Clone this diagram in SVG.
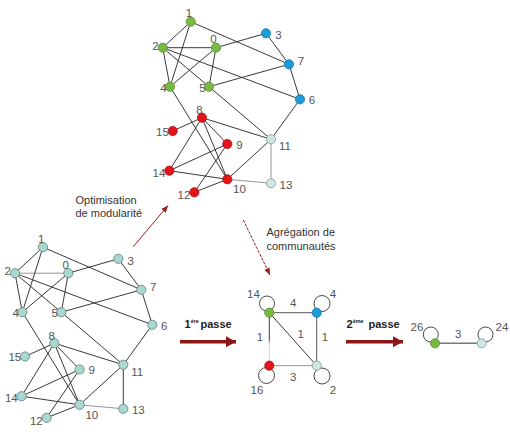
<svg xmlns="http://www.w3.org/2000/svg" width="510" height="434" viewBox="0 0 510 434">
<defs>
<style>
.e{stroke:#222;stroke-width:0.9;fill:none}
.el{stroke:#888;stroke-width:0.9;fill:none}
.lp{stroke:#333;stroke-width:0.9;fill:none}
.g{fill:#78b943;stroke:#5c8f30;stroke-width:0.8}
.b{fill:#1d9ad8;stroke:#167ab0;stroke-width:0.8}
.r{fill:#e4141b;stroke:#b01015;stroke-width:0.8}
.c{fill:#cfe6e2;stroke:#7f9d99;stroke-width:0.8}
.t{fill:#a9d8d0;stroke:#5f7f7a;stroke-width:0.8}
.lb{font-family:"Liberation Sans",Arial,sans-serif;font-size:11.5px;fill:#555;text-anchor:middle}
.tx{font-family:"Liberation Sans",Arial,sans-serif;font-size:11px;fill:#333}
.bd{font-family:"Liberation Sans",Arial,sans-serif;font-size:11px;font-weight:bold;fill:#222}
.big{stroke:#8a1616;stroke-width:3.5;fill:none}
.thin{stroke:#a31c1c;stroke-width:1;fill:none}
</style>
<marker id="ah" markerUnits="userSpaceOnUse" markerWidth="12" markerHeight="12" refX="10" refY="6" orient="auto">
<path d="M0,0.5 L10,6 L0,11.5 Z" fill="#8a1616"/>
</marker>
<marker id="as" markerUnits="userSpaceOnUse" markerWidth="8" markerHeight="8" refX="7" refY="4" orient="auto">
<path d="M0,1 L7,4 L0,7 Z" fill="#a31c1c"/>
</marker>
<linearGradient id="gr" gradientUnits="userSpaceOnUse" x1="0" y1="312" x2="0" y2="366">
<stop offset="0.5" stop-color="#222"/>
<stop offset="0.6" stop-color="#ccc"/>
</linearGradient>
</defs>
<rect width="510" height="434" fill="#fff"/>

<!-- top graph -->
<g id="top-graph">
<g id="top-edges">
<line class="e" x1="216" y1="47.7" x2="162.7" y2="47.7"/>
<line class="e" x1="216" y1="47.7" x2="266" y2="33.3"/>
<line class="e" x1="216" y1="47.7" x2="170" y2="86.7"/>
<line class="e" x1="216" y1="47.7" x2="209" y2="86.7"/>
<line class="e" x1="190.7" y1="21.7" x2="162.7" y2="47.7"/>
<line class="e" x1="190.7" y1="21.7" x2="170" y2="86.7"/>
<line class="e" x1="190.7" y1="21.7" x2="289" y2="64.3"/>
<line class="e" x1="162.7" y1="47.7" x2="170" y2="86.7"/>
<line class="e" x1="162.7" y1="47.7" x2="209" y2="86.7"/>
<line class="e" x1="162.7" y1="47.7" x2="300" y2="99.3"/>
<line class="e" x1="266" y1="33.3" x2="289" y2="64.3"/>
<line class="e" x1="170" y1="86.7" x2="227.3" y2="179.3"/>
<line class="e" x1="209" y1="86.7" x2="289" y2="64.3"/>
<line class="e" x1="209" y1="86.7" x2="271" y2="139.3"/>
<line class="e" x1="300" y1="99.3" x2="289" y2="64.3"/>
<line class="e" x1="300" y1="99.3" x2="271" y2="139.3"/>
<line class="e" x1="202" y1="117.7" x2="227.3" y2="144"/>
<line class="e" x1="202" y1="117.7" x2="227.3" y2="179.3"/>
<line class="e" x1="202" y1="117.7" x2="271" y2="139.3"/>
<line class="e" x1="202" y1="117.7" x2="169.3" y2="170.7"/>
<line class="e" x1="202" y1="117.7" x2="172.7" y2="131"/>
<line class="e" x1="227.3" y1="144" x2="194.3" y2="192.3"/>
<line class="e" x1="227.3" y1="144" x2="169.3" y2="170.7"/>
<line class="e" x1="227.3" y1="179.3" x2="271" y2="139.3"/>
<line class="e" x1="227.3" y1="179.3" x2="194.3" y2="192.3"/>
<line class="el" x1="227.3" y1="179.3" x2="271" y2="183.3"/>
<line class="e" x1="227.3" y1="179.3" x2="169.3" y2="170.7"/>
<line class="el" x1="271" y1="139.3" x2="271" y2="183.3"/>
</g>
<g id="t0"><circle class="g" cx="216" cy="47.7" r="4.6"/><text class="lb" x="213.5" y="43">0</text></g>
<g id="t1"><circle class="g" cx="190.7" cy="21.7" r="4.6"/><text class="lb" x="189" y="17">1</text></g>
<g id="t2"><circle class="g" cx="162.7" cy="47.7" r="4.6"/><text class="lb" x="155.5" y="49.5">2</text></g>
<g id="t3"><circle class="b" cx="266" cy="33.3" r="4.6"/><text class="lb" x="278.5" y="39">3</text></g>
<g id="t4"><circle class="g" cx="170" cy="86.7" r="4.6"/><text class="lb" x="163.5" y="91.5">4</text></g>
<g id="t5"><circle class="g" cx="209" cy="86.7" r="4.6"/><text class="lb" x="202.5" y="91.5">5</text></g>
<g id="t6"><circle class="b" cx="300" cy="99.3" r="4.6"/><text class="lb" x="312" y="104">6</text></g>
<g id="t7"><circle class="b" cx="289" cy="64.3" r="4.6"/><text class="lb" x="301" y="65">7</text></g>
<g id="t8"><circle class="r" cx="202" cy="117.7" r="4.6"/><text class="lb" x="199.5" y="114">8</text></g>
<g id="t9"><circle class="r" cx="227.3" cy="144" r="4.6"/><text class="lb" x="239.5" y="148.5">9</text></g>
<g id="t10"><circle class="r" cx="227.3" cy="179.3" r="4.6"/><text class="lb" x="239.5" y="193">10</text></g>
<g id="t11"><circle class="c" cx="271" cy="139.3" r="4.6"/><text class="lb" x="285" y="150">11</text></g>
<g id="t12"><circle class="r" cx="194.3" cy="192.3" r="4.6"/><text class="lb" x="184" y="199">12</text></g>
<g id="t13"><circle class="c" cx="271" cy="183.3" r="4.6"/><text class="lb" x="286" y="188.5">13</text></g>
<g id="t14"><circle class="r" cx="169.3" cy="170.7" r="4.6"/><text class="lb" x="159" y="176.5">14</text></g>
<g id="t15"><circle class="r" cx="172.7" cy="131" r="4.6"/><text class="lb" x="162.5" y="135.5">15</text></g>
</g>

<!-- bottom-left graph -->
<g id="bottom-graph" transform="translate(-147.7,225.5)">
<g id="bottom-edges">
<line class="el" x1="216" y1="47.7" x2="162.7" y2="47.7"/>
<line class="e" x1="216" y1="47.7" x2="266" y2="33.3"/>
<line class="e" x1="216" y1="47.7" x2="170" y2="86.7"/>
<line class="e" x1="216" y1="47.7" x2="209" y2="86.7"/>
<line class="e" x1="190.7" y1="21.7" x2="162.7" y2="47.7"/>
<line class="e" x1="190.7" y1="21.7" x2="170" y2="86.7"/>
<line class="e" x1="190.7" y1="21.7" x2="289" y2="64.3"/>
<line class="e" x1="162.7" y1="47.7" x2="170" y2="86.7"/>
<line class="e" x1="162.7" y1="47.7" x2="209" y2="86.7"/>
<line class="e" x1="162.7" y1="47.7" x2="300" y2="99.3"/>
<line class="e" x1="266" y1="33.3" x2="289" y2="64.3"/>
<line class="e" x1="170" y1="86.7" x2="227.3" y2="179.3"/>
<line class="e" x1="209" y1="86.7" x2="289" y2="64.3"/>
<line class="e" x1="209" y1="86.7" x2="271" y2="139.3"/>
<line class="e" x1="300" y1="99.3" x2="289" y2="64.3"/>
<line class="e" x1="300" y1="99.3" x2="271" y2="139.3"/>
<line class="e" x1="202" y1="117.7" x2="227.3" y2="144"/>
<line class="e" x1="202" y1="117.7" x2="227.3" y2="179.3"/>
<line class="e" x1="202" y1="117.7" x2="271" y2="139.3"/>
<line class="e" x1="202" y1="117.7" x2="169.3" y2="170.7"/>
<line class="e" x1="202" y1="117.7" x2="172.7" y2="131"/>
<line class="e" x1="227.3" y1="144" x2="194.3" y2="192.3"/>
<line class="e" x1="227.3" y1="144" x2="169.3" y2="170.7"/>
<line class="e" x1="227.3" y1="179.3" x2="271" y2="139.3"/>
<line class="e" x1="227.3" y1="179.3" x2="194.3" y2="192.3"/>
<line class="el" x1="227.3" y1="179.3" x2="271" y2="183.3"/>
<line class="e" x1="227.3" y1="179.3" x2="169.3" y2="170.7"/>
<line class="e" x1="271" y1="139.3" x2="271" y2="183.3"/>
</g>
<g id="b0"><circle class="t" cx="216" cy="47.7" r="4.6"/><text class="lb" x="213.5" y="43">0</text></g>
<g id="b1"><circle class="t" cx="190.7" cy="21.7" r="4.6"/><text class="lb" x="189" y="17">1</text></g>
<g id="b2"><circle class="t" cx="162.7" cy="47.7" r="4.6"/><text class="lb" x="155.5" y="49.5">2</text></g>
<g id="b3"><circle class="t" cx="266" cy="33.3" r="4.6"/><text class="lb" x="278.5" y="39">3</text></g>
<g id="b4"><circle class="t" cx="170" cy="86.7" r="4.6"/><text class="lb" x="163.5" y="91.5">4</text></g>
<g id="b5"><circle class="t" cx="209" cy="86.7" r="4.6"/><text class="lb" x="202.5" y="91.5">5</text></g>
<g id="b6"><circle class="t" cx="300" cy="99.3" r="4.6"/><text class="lb" x="312" y="104">6</text></g>
<g id="b7"><circle class="t" cx="289" cy="64.3" r="4.6"/><text class="lb" x="301" y="65">7</text></g>
<g id="b8"><circle class="t" cx="202" cy="117.7" r="4.6"/><text class="lb" x="199.5" y="114">8</text></g>
<g id="b9"><circle class="t" cx="227.3" cy="144" r="4.6"/><text class="lb" x="239.5" y="148.5">9</text></g>
<g id="b10"><circle class="t" cx="227.3" cy="179.3" r="4.6"/><text class="lb" x="239.5" y="193">10</text></g>
<g id="b11"><circle class="t" cx="271" cy="139.3" r="4.6"/><text class="lb" x="285" y="150">11</text></g>
<g id="b12"><circle class="t" cx="194.3" cy="192.3" r="4.6"/><text class="lb" x="184" y="199">12</text></g>
<g id="b13"><circle class="t" cx="271" cy="183.3" r="4.6"/><text class="lb" x="286" y="188.5">13</text></g>
<g id="b14"><circle class="t" cx="169.3" cy="170.7" r="4.6"/><text class="lb" x="159" y="176.5">14</text></g>
<g id="b15"><circle class="t" cx="172.7" cy="131" r="4.6"/><text class="lb" x="162.5" y="135.5">15</text></g>
</g>

<!-- first aggregated graph -->
<g id="agg1">
<g id="agg1-edges">
<line x1="269.3" y1="312.7" x2="316.7" y2="312.7" style="stroke:#444;stroke-width:0.9"/>
<line x1="316.7" y1="312.7" x2="316.7" y2="365.7" style="stroke:#444;stroke-width:0.9"/>
<line class="e" x1="269.3" y1="312.7" x2="316.7" y2="365.7"/>
<line x1="269.3" y1="312.7" x2="269.3" y2="365.7" style="stroke:url(#gr);stroke-width:0.9"/>
<line class="el" x1="269.3" y1="365.7" x2="316.7" y2="365.7"/>
<circle class="lp" cx="267" cy="303.5" r="7.5"/>
<circle class="lp" cx="322" cy="303.5" r="8"/>
<circle class="lp" cx="266.5" cy="375.5" r="8"/>
<circle class="lp" cx="322" cy="376" r="8"/>
</g>
<g id="a-green"><circle class="g" cx="269.3" cy="312.7" r="4.6"/><text class="lb" x="253.5" y="298">14</text></g>
<g id="a-blue"><circle class="b" cx="316.7" cy="312.7" r="4.6"/><text class="lb" x="333" y="298">4</text></g>
<g id="a-red"><circle class="r" cx="269.3" cy="365.7" r="4.6"/><text class="lb" x="257" y="393.5">16</text></g>
<g id="a-cyan"><circle class="c" cx="316.7" cy="365.7" r="4.6"/><text class="lb" x="333" y="393.5">2</text></g>
<g id="a-labels">
<text class="lb" x="293.3" y="307">4</text>
<text class="lb" x="260" y="341">1</text>
<text class="lb" x="300.7" y="337.5">1</text>
<text class="lb" x="325" y="341">1</text>
<text class="lb" x="293.3" y="381">3</text>
</g>
</g>

<!-- second aggregated graph -->
<g id="agg2">
<g id="agg2-edges">
<line x1="435" y1="343.3" x2="481.7" y2="343.3" style="stroke:#777;stroke-width:1.4"/>
<circle class="lp" cx="430.8" cy="334.5" r="7.5"/>
<circle class="lp" cx="485.5" cy="334.5" r="7.5"/>
</g>
<g id="s-green"><circle class="g" cx="435" cy="343.3" r="4.6"/><text class="lb" x="417" y="330.5">26</text></g>
<g id="s-cyan"><circle class="c" cx="481.7" cy="343.3" r="4.6"/><text class="lb" x="502" y="330.5">24</text></g>
<text class="lb" x="458.3" y="337.5">3</text>
</g>

<!-- arrows and labels -->
<g id="connectors">
<line class="thin" x1="133.3" y1="246.7" x2="168" y2="205.5" marker-end="url(#as)"/>
<line class="thin" x1="243.3" y1="220" x2="270" y2="275" stroke-dasharray="3,1.2" marker-end="url(#as)"/>
<line class="big" x1="180" y1="341.7" x2="236" y2="341.7" marker-end="url(#ah)"/>
<line class="big" x1="346" y1="341.7" x2="403" y2="341.7" marker-end="url(#ah)"/>
</g>
<g id="captions">
<text class="tx" x="75.5" y="203.5">Optimisation</text>
<text class="tx" x="75.5" y="217">de modularité</text>
<text class="tx" x="266.5" y="236">Agrégation de</text>
<text class="tx" x="266.5" y="250">communautés</text>
<text class="bd" x="184.5" y="327.5">1<tspan font-size="5.5" dy="-4.5">ère</tspan></text>
<text class="bd" x="200.5" y="327.5">passe</text>
<text class="bd" x="346.5" y="327.5">2<tspan font-size="5.5" dy="-4.5">ème</tspan></text>
<text class="bd" x="368.5" y="327.5">passe</text>
</g>
</svg>
